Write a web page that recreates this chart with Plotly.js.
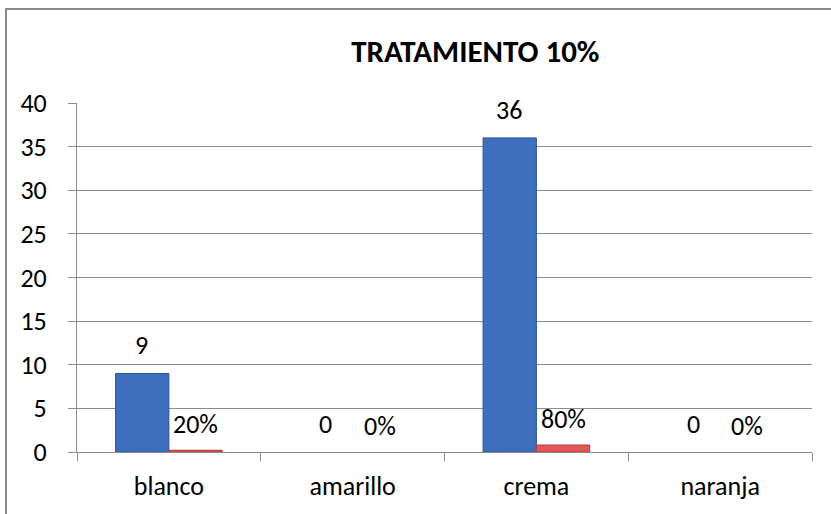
<!DOCTYPE html>
<html>
<head>
<meta charset="utf-8">
<script src="https://cdn.plot.ly/plotly-3.0.1.min.js"></script>
<style>
html,body{margin:0;padding:0;background:#fff;}
#wrap{position:relative;width:831px;height:514px;}
#chart{width:831px;height:514px;}
#frame{position:absolute;left:5px;top:8px;right:-4px;bottom:-4px;border:2px solid #8c8c8c;pointer-events:none;}
</style>
</head>
<body>
<div id="wrap"><div id="chart"></div><div id="frame"></div></div>
<script>
const categories = ["blanco", "amarillo", "crema", "naranja"];
const counts = [9, 0, 36, 0];
const shares = [0.2, 0, 0.8, 0];
const shareLabels = ["20%", "0%", "80%", "0%"];
const yTicks = [0, 5, 10, 15, 20, 25, 30, 35, 40];

const FONT = "Carlito, Lato, 'Open Sans', sans-serif";
const FS = 26;

const blue = {
  type: "bar", x: categories, y: counts, name: "cantidad",
  marker: {color: "#3d6fbe", line: {color: "#2b5492", width: counts.map(v => v > 0 ? 1 : 0)}},
  hoverinfo: "x+y"
};
const red = {
  type: "bar", x: categories, y: shares, name: "porcentaje",
  marker: {color: "#e2585a", line: {color: "#b23a3a", width: shares.map(v => v > 0 ? 1 : 0)}},
  hoverinfo: "x+y"
};

const annotations = [];
categories.forEach((c, i) => {
  annotations.push({x: c, y: counts[i], xref: "x", yref: "y", text: String(counts[i]),
    showarrow: false, xshift: -27, yshift: 28, font: {family: FONT, size: FS, color: "#000"}});
  annotations.push({x: c, y: shares[i], xref: "x", yref: "y", text: shareLabels[i],
    showarrow: false, xshift: 27, yshift: 26, font: {family: FONT, size: FS, color: "#000"}});
});

const layout = {
  width: 831, height: 514,
  margin: {l: 77, r: 19, t: 103, b: 62},
  paper_bgcolor: "#fff", plot_bgcolor: "#fff",
  showlegend: false,
  barmode: "group", bargap: 0.42, bargroupgap: 0,
  font: {family: FONT, size: FS, color: "#000"},
  title: {text: "<b>TRATAMIENTO 10%</b>", xref: "container", x: 0.572, xanchor: "center", y: 0.9, yanchor: "middle",
    font: {family: FONT, size: 31, color: "#000"}},
  xaxis: {
    type: "category", showgrid: false, showline: true, linecolor: "#8c8c8c", linewidth: 1,
    ticks: "outside", tickson: "boundaries", ticklen: 8, tickcolor: "#8c8c8c",
    tickfont: {family: FONT, size: FS, color: "#000"}, ticklabelstandoff: 11
  },
  yaxis: {
    range: [0, 40], tickvals: yTicks, showgrid: true, gridcolor: "#8c8c8c", gridwidth: 1,
    showline: true, linecolor: "#8c8c8c", linewidth: 1, zeroline: false,
    ticks: "outside", ticklen: 8, tickcolor: "#8c8c8c",
    tickfont: {family: FONT, size: FS, color: "#000"}, ticklabelstandoff: 16
  },
  annotations: annotations
};

Plotly.newPlot("chart", [blue, red], layout, {displayModeBar: false, staticPlot: true});
</script>
</body>
</html>
